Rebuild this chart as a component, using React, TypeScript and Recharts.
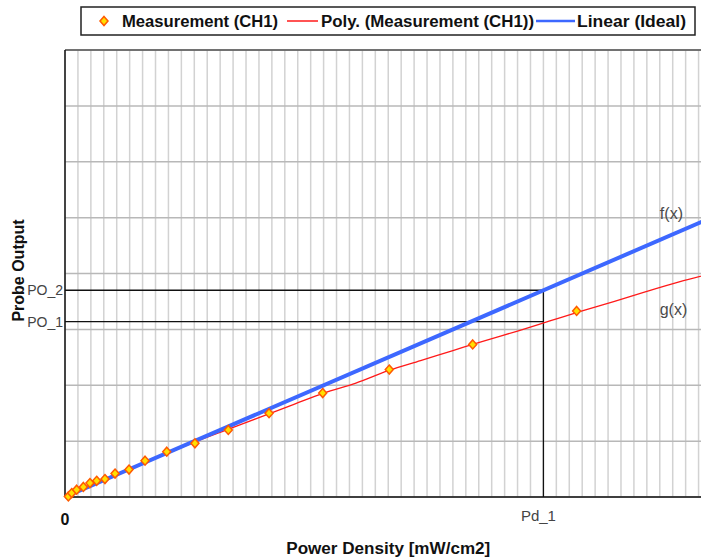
import {
  ComposedChart,
  Line,
  Scatter,
  XAxis,
  YAxis,
  CartesianGrid,
  ReferenceLine,
  ReferenceDot,
} from 'recharts'

const measX = [0.26, 0.52, 0.9, 1.42, 1.93, 2.45, 3.09, 3.87, 4.95, 6.19, 7.87, 10.05, 12.63, 15.78, 19.93, 25.08, 31.53, 39.57]
const measY = [0.01, 0.07, 0.13, 0.18, 0.25, 0.29, 0.32, 0.42, 0.49, 0.65, 0.81, 0.96, 1.2, 1.5, 1.86, 2.28, 2.73, 3.33]

// polynomial fit g(x)
const polyX = [0, 2, 4, 6, 8, 10, 12.5, 15, 17.5, 20, 22.5, 25, 27.5, 30, 32.5, 35, 37.5, 40, 42.5, 45, 47.5, 50]
const polyY = [0, 0.2, 0.4, 0.6, 0.79, 0.98, 1.2, 1.42, 1.64, 1.86, 2.04, 2.26, 2.44, 2.62, 2.8, 2.97, 3.15, 3.33, 3.5, 3.68, 3.85, 4.0]

// ideal linear f(x)
const idealX = [0, 50]
const idealY = [0, 5]

// marked values
const PD_1 = 37
const PO_1 = 3.14
const PO_2 = 3.7

const gridX = Array.from({ length: 51 }, (_, i) => i)
const gridY = [0, 1, 2, 3, 4, 5, 6, 7, 8]
const xTicks = [0, PD_1]
const xTickLabels = ['0', 'Pd_1']
const yTicks = [PO_1, PO_2]
const yTickLabels = ['PO_1', 'PO_2']

const measData = measX.map((x, i) => ({ x, y: measY[i] }))
const polyData = polyX.map((x, i) => ({ x, y: polyY[i] }))
const idealData = idealX.map((x, i) => ({ x, y: idealY[i] }))

const FONT = '"Liberation Sans", Arial, sans-serif'
const BLUE = '#3d68ff'
const RED = '#ff1a1a'

function Diamond({ cx, cy }: { cx?: number; cy?: number }) {
  if (cx == null || cy == null) return null
  return (
    <path
      d={`M${cx},${cy - 4.5}L${cx + 4},${cy}L${cx},${cy + 4.5}L${cx - 4},${cy}Z`}
      fill="#ffe000"
      stroke="#ff5a00"
      strokeWidth={1.5}
    />
  )
}

function XTick(props: any) {
  const { x, y, payload } = props
  const idx = xTicks.indexOf(payload.value)
  if (idx < 0) return null
  const bold = idx === 0
  return (
    <text
      x={bold ? x : x - 5}
      y={bold ? y + 22 : y + 18}
      textAnchor="middle"
      dominantBaseline="central"
      fontFamily={FONT}
      fontSize={bold ? 16 : 15}
      fontWeight={bold ? 'bold' : 'normal'}
      fill={bold ? '#111' : '#444'}
    >
      {xTickLabels[idx]}
    </text>
  )
}

function YTick(props: any) {
  const { x, y, payload } = props
  const idx = yTicks.indexOf(payload.value)
  if (idx < 0) return null
  return (
    <text
      x={x - 2}
      y={y}
      textAnchor="end"
      dominantBaseline="central"
      fontFamily={FONT}
      fontSize={14}
      fill="#444"
    >
      {yTickLabels[idx]}
    </text>
  )
}

function XTitle(props: any) {
  const vb = props.viewBox || {}
  return (
    <text
      x={vb.x + vb.width / 2}
      y={vb.y + 51}
      textAnchor="middle"
      dominantBaseline="central"
      fontFamily={FONT}
      fontSize={16}
      fontWeight="bold"
      fill="#111"
      textLength={204}
      lengthAdjust="spacingAndGlyphs"
    >
      Power Density [mW/cm2]
    </text>
  )
}

function YTitle(props: any) {
  const vb = props.viewBox || {}
  const cx = vb.x + 18
  const cy = vb.y + vb.height / 2 - 3
  return (
    <text
      x={cx}
      y={cy}
      transform={`rotate(-90 ${cx} ${cy})`}
      textAnchor="middle"
      dominantBaseline="central"
      fontFamily={FONT}
      fontSize={16}
      fontWeight="bold"
      fill="#111"
    >
      Probe Output
    </text>
  )
}

function LegendBox() {
  const ty = 21
  const text = { fontFamily: FONT, fontSize: 16, fontWeight: 'bold' as const, fill: '#111' }
  return (
    <svg width={701} height={42} style={{ position: 'absolute', left: 0, top: 0 }}>
      <rect x={81} y={7} width={614} height={28} fill="#fff" stroke="#222" strokeWidth={1.5} />
      <Diamond cx={104} cy={ty} />
      <text x={122} y={ty} dominantBaseline="central" textLength={156} lengthAdjust="spacingAndGlyphs" {...text}>
        Measurement (CH1)
      </text>
      <line x1={287} x2={318} y1={ty} y2={ty} stroke={RED} strokeWidth={1.5} />
      <text x={321} y={ty} dominantBaseline="central" textLength={213} lengthAdjust="spacingAndGlyphs" {...text}>
        Poly. (Measurement (CH1))
      </text>
      <line x1={536} x2={575} y1={ty} y2={ty} stroke={BLUE} strokeWidth={2.5} />
      <text x={577} y={ty} dominantBaseline="central" textLength={109} lengthAdjust="spacingAndGlyphs" {...text}>
        Linear (Ideal)
      </text>
    </svg>
  )
}

export default function App() {
  return (
    <div
      style={{
        position: 'absolute',
        left: 0,
        top: 0,
        width: 701,
        height: 558,
        overflow: 'hidden',
        background: '#fff',
      }}
    >
      <ComposedChart
        width={713}
        height={558}
        margin={{ top: 50, right: 1.5, bottom: 0, left: 0 }}
      >
        <CartesianGrid
          horizontal={false}
          verticalValues={gridX}
          stroke="#d2d2d2"
          strokeWidth={1.5}
        />
        <CartesianGrid
          vertical={false}
          horizontalValues={gridY}
          stroke="#b8b8b8"
          strokeWidth={1.5}
        />
        <XAxis
          type="number"
          dataKey="x"
          domain={[0, 50]}
          ticks={xTicks}
          interval={0}
          tickSize={0}
          tickMargin={0}
          tickLine={false}
          tick={<XTick />}
          height={61}
          axisLine={{ stroke: '#111', strokeWidth: 1.5 }}
          label={(p: any) => <XTitle {...p} />}
        />
        <YAxis
          type="number"
          dataKey="y"
          domain={[0, 8]}
          ticks={yTicks}
          interval={0}
          tickSize={0}
          tickMargin={0}
          tickLine={false}
          tick={<YTick />}
          width={65}
          axisLine={{ stroke: '#111', strokeWidth: 1.5 }}
          label={(p: any) => <YTitle {...p} />}
        />
        <ReferenceLine y={8} stroke="#555" strokeWidth={1.5} />
        <ReferenceLine
          segment={[{ x: 0, y: PO_2 }, { x: PD_1, y: PO_2 }]}
          stroke="#111"
          strokeWidth={1.3}
        />
        <ReferenceLine
          segment={[{ x: 0, y: PO_1 }, { x: PD_1, y: PO_1 }]}
          stroke="#111"
          strokeWidth={1.3}
        />
        <ReferenceLine
          segment={[{ x: PD_1, y: 0 }, { x: PD_1, y: PO_2 }]}
          stroke="#111"
          strokeWidth={1.3}
        />
        <Line
          data={polyData}
          dataKey="y"
          type="monotone"
          stroke={RED}
          strokeWidth={1.3}
          dot={false}
          activeDot={false}
          isAnimationActive={false}
        />
        <Scatter
          data={measData}
          dataKey="y"
          shape={(p: any) => <Diamond cx={p.cx} cy={p.cy} />}
          isAnimationActive={false}
        />
        <Line
          data={idealData}
          dataKey="y"
          type="linear"
          stroke={BLUE}
          strokeWidth={4}
          dot={false}
          activeDot={false}
          isAnimationActive={false}
        />
        <ReferenceDot
          x={46.9}
          y={5.08}
          r={0}
          fill="none"
          stroke="none"
          label={{ value: 'f(x)', position: 'center', fill: '#4a4a4a', fontSize: 16, fontFamily: FONT }}
        />
        <ReferenceDot
          x={47.06}
          y={3.35}
          r={0}
          fill="none"
          stroke="none"
          label={{ value: 'g(x)', position: 'center', fill: '#4a4a4a', fontSize: 16, fontFamily: FONT }}
        />
      </ComposedChart>
      <LegendBox />
    </div>
  )
}
